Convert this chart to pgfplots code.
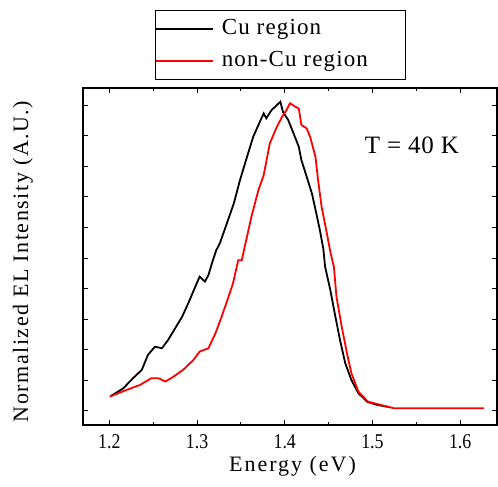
\documentclass[border=0pt]{standalone}
\usepackage{fontspec}
\setmainfont{Liberation Serif}
\usepackage{pgfplots}
\pgfplotsset{compat=1.18}
\begin{document}
\begin{tikzpicture}[x=1pt,y=1pt]
\useasboundingbox (0,0) rectangle (498,487);
\begin{axis}[
  at={(83pt,62pt)}, anchor=south west,
  width=414pt, height=337pt, scale only axis,
  xmin=1.170, xmax=1.642, ymin=-0.046, ymax=1.056,
  xtick={1.2,1.3,1.4,1.5,1.6},
  xticklabels={1.2,1.3,1.4,1.5,1.6},
  minor x tick num=1,
  ytick={0,0.1,0.2,0.3,0.4,0.5,0.6,0.7,0.8,0.9,1.0},
  yticklabels={},
  tick align=inside, xtick pos=both, ytick pos=both,
  major tick length=5pt, minor tick length=3pt,
  every tick/.style={black, line width=1pt},
  axis line style={line width=1.4pt},
  xticklabel style={font=\fontsize{21}{24}\selectfont\addfontfeature{FakeStretch=0.85}, anchor=base, yshift=-24pt},
  xlabel={Energy (eV)},
  ylabel={Normalized EL Intensity (A.U.)},
  xlabel style={font=\fontsize{22}{26}\selectfont\addfontfeature{LetterSpace=9}, at={(axis description cs:0.506,-0.139)}, anchor=base},
  ylabel style={font=\fontsize{22}{26}\selectfont\addfontfeature{LetterSpace=7}, at={(axis description cs:-0.1208,0.485)}, anchor=south, inner sep=0pt},
  legend style={at={(rel axis cs:0.174,1.231)}, anchor=north west, draw=black, line width=1pt,
    inner xsep=0pt, inner ysep=8pt, font=\fontsize{23}{26}\selectfont\addfontfeature{LetterSpace=5},
    nodes={inner sep=0pt, text height=16pt, text depth=5pt}, column sep=8pt, row sep=11pt},
  legend cell align=left,
  legend image code/.code={\draw[#1, line width=1.3pt] (0pt,0pt) -- (57pt,0pt);},
]
\addplot[black, line width=1.8pt] coordinates {
(1.2008,0.047) (1.216,0.074) (1.227,0.107) (1.237,0.134) (1.244,0.183) (1.252,0.210)
(1.260,0.205) (1.267,0.232) (1.275,0.270) (1.283,0.308) (1.290,0.352) (1.298,0.406)
(1.303,0.439) (1.309,0.423) (1.313,0.444) (1.317,0.483) (1.322,0.526) (1.326,0.548)
(1.334,0.613) (1.342,0.679) (1.349,0.755) (1.357,0.831) (1.364,0.896) (1.370,0.935)
(1.376,0.973) (1.379,0.957) (1.385,0.984) (1.391,1.000) (1.395,1.011) (1.398,0.978)
(1.404,0.951) (1.410,0.908) (1.416,0.864) (1.419,0.820) (1.425,0.766) (1.431,0.711)
(1.436,0.646) (1.440,0.592) (1.444,0.530) (1.446,0.472) (1.452,0.395) (1.457,0.319)
(1.463,0.232) (1.469,0.156) (1.476,0.101) (1.484,0.058) (1.494,0.030) (1.505,0.020)
(1.520,0.012)
};
\addlegendentry{Cu region}
\addplot[red, line width=1.8pt] coordinates {
(1.2008,0.047) (1.220,0.069) (1.235,0.085) (1.248,0.107) (1.256,0.107) (1.264,0.096)
(1.273,0.112) (1.284,0.134) (1.296,0.167) (1.303,0.194) (1.313,0.205) (1.321,0.254)
(1.328,0.308) (1.334,0.357) (1.341,0.417) (1.347,0.493) (1.351,0.493) (1.357,0.570)
(1.362,0.635) (1.370,0.722) (1.376,0.771) (1.383,0.875) (1.391,0.929) (1.397,0.962)
(1.402,0.984) (1.406,1.006) (1.412,0.995) (1.416,0.989) (1.419,0.935) (1.425,0.924)
(1.429,0.896) (1.435,0.831) (1.438,0.755) (1.442,0.668) (1.448,0.581) (1.452,0.520)
(1.456,0.472) (1.459,0.373) (1.465,0.275) (1.471,0.188) (1.476,0.123) (1.484,0.063)
(1.495,0.030) (1.509,0.020) (1.524,0.009) (1.627,0.009)
};
\addlegendentry{non-Cu region\rule{38pt}{0pt}}
\node[font=\fontsize{25}{28}\selectfont\addfontfeature{LetterSpace=3}] at (axis cs:1.545,0.869) {T = 40 K};
\end{axis}
\end{tikzpicture}
\end{document}
